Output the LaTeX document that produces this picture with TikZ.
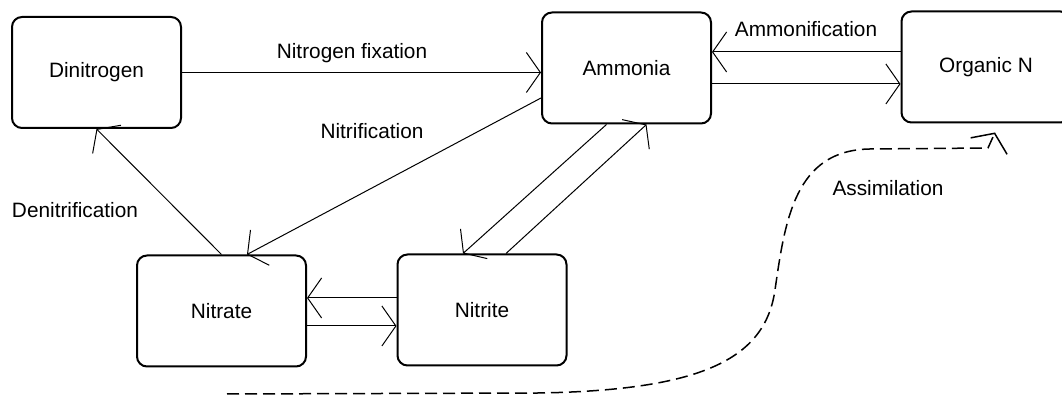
\documentclass[tikz,border=0pt]{standalone}
\usepackage{fontspec}
\setmainfont{Liberation Sans}
\usetikzlibrary{arrows.meta,positioning}

\begin{document}
\begin{tikzpicture}[
    x=0.5pt, y=-0.5pt,
    every node/.style={font=\fontsize{10.4}{12}\selectfont},
    pool/.style={rectangle, rounded corners=5pt, draw, line width=1pt, minimum width=84.5pt, minimum height=55.5pt, inner sep=0pt},
    flow/.style={-{Straight Barb[length=7pt,width=20pt]}, line width=0.5pt},
    tag/.style={inner sep=0pt}
]
    \useasboundingbox (0,0) rectangle (1062,399);
    \clip (0,0) rectangle (1062,399);

    % Pools
    \node[pool] (dini) at (96.5,72.5) {Dinitrogen};
    \node[pool] (ammo) at (626.5,68) {Ammonia};
    \node[pool] (orgn) at (986,67) {Organic N};
    \node[pool] (nitra) at (221.5,311) {Nitrate};
    \node[pool] (nitri) at (482,310) {Nitrite};

    % Labels
    \node[tag] (fixlbl) at (352,53) {Nitrogen fixation};
    \node[tag] (nitlbl) at (372,131) {Nitrification};
    \node[tag] (denlbl) at (75,210) {Denitrification};
    \node[tag] (ammlbl) at (806,29) {Ammonification};
    \node[tag] (asslbl) at (888,188) {Assimilation};

    % Arrows
    \draw[flow] (dini.east) -- (dini.east -| ammo.west);
    \draw[flow] ([yshift=7.5pt]orgn.west) -- ([yshift=7.5pt]orgn.west -| ammo.east);
    \draw[flow] ([yshift=-8pt]ammo.east) -- ([yshift=-8pt]ammo.east -| orgn.west);
    \draw[flow] ([yshift=6pt]nitri.west) -- ([yshift=6pt]nitri.west -| nitra.east);
    \draw[flow] ([yshift=-7.5pt]nitra.east) -- ([yshift=-7.5pt]nitra.east -| nitri.west);
    \draw[flow] ([yshift=-15pt]ammo.west) -- ([xshift=12.75pt]nitra.north);
    \draw[flow] (nitra.north) -- (dini.south);
    \draw[flow] ([xshift=-10pt]ammo.south) -- ([xshift=-9.5pt]nitri.north);
    \draw[flow] ([xshift=12pt]nitri.north) -- ([xshift=10pt]ammo.south);

    % Assimilation
    \coordinate (soil) at (227,394);
    \draw[flow, line width=0.75pt, dash pattern=on 6pt off 3pt] (soil) -- (540,393)
        .. controls (700,390) and (765,360) .. (775,290)
        .. controls (785,220) and (795,150) .. (870,149)
        -- (988,148) -- ([xshift=4.5pt,yshift=-4.5pt]orgn.south);
\end{tikzpicture}
\end{document}
